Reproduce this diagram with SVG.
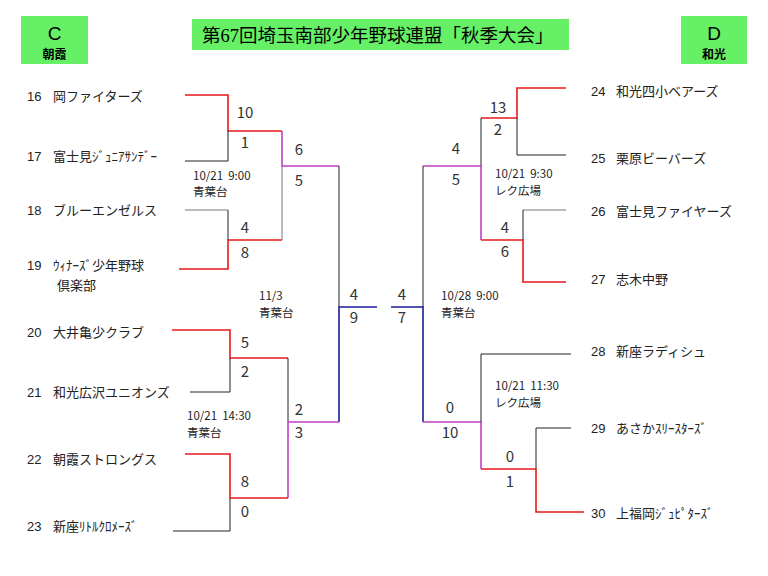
<svg xmlns="http://www.w3.org/2000/svg" width="768" height="576" viewBox="0 0 768 576">
<style>
.bg{fill:#ffffff}
.box{fill:#66f066;stroke:none}
.hdr{font-family:"Liberation Sans","Noto Sans CJK JP",sans-serif;font-size:19px;fill:#000;text-anchor:middle}
.hdrs{font-family:"Noto Sans CJK JP",sans-serif;font-size:12px;font-weight:bold;fill:#000;text-anchor:middle}
.title{font-family:"Noto Sans CJK JP",sans-serif;font-size:18.5px;fill:#000}
.serif{font-family:"Liberation Serif",serif}
.num{font-family:"Liberation Sans","Noto Sans CJK JP",sans-serif;font-size:13px;fill:#222}
.team{font-family:"Noto Sans CJK JP",sans-serif;font-size:13px;fill:#222}
.sc{font-family:"Noto Sans CJK JP",sans-serif;font-size:15px;fill:#333;text-anchor:middle}
.dt{font-family:"Noto Sans CJK JP",sans-serif;font-size:11.5px;fill:#222;white-space:pre}
.k{fill:none;stroke:#222;stroke-width:1}
.g{fill:none;stroke:#777;stroke-width:1}
.r{fill:none;stroke:#e81818;stroke-width:1.6}
.m{fill:none;stroke:#c040c8;stroke-width:1.6}
.b{fill:none;stroke:#1a1a9a;stroke-width:1.6}
</style>
<rect class="bg" x="0" y="0" width="768" height="576"/>

<g id="header-c">
<rect class="box" x="21" y="16" width="67" height="48"/>
<text class="hdr" x="54.5" y="40">C</text>
<text class="hdrs" x="54.5" y="59">朝霞</text>
</g>
<g id="title">
<rect class="box" x="192" y="19" width="377" height="31"/>
<text class="title" x="202" y="42">第<tspan class="serif">67</tspan>回埼玉南部少年野球連盟「秋季大会」</text>
</g>
<g id="header-d">
<rect class="box" x="681" y="16" width="66" height="48"/>
<text class="hdr" x="714" y="40">D</text>
<text class="hdrs" x="714" y="59">和光</text>
</g>

<g id="connectors">
<!-- left -->
<polyline class="r" points="185,95 228,95 228,131 282,131"/>
<polyline class="m" points="282,131 282,166 339,166"/>
<polyline class="k" points="185,161 228,161 228,131"/>
<line class="g" x1="185" y1="210" x2="228" y2="210"/>
<line class="k" x1="228" y1="210" x2="228" y2="240"/>
<polyline class="r" points="179,269 228,269 228,240 282,240"/>
<line class="g" x1="282" y1="240" x2="282" y2="166"/>
<line class="k" x1="339" y1="166" x2="339" y2="307"/>
<polyline class="b" points="377,307 339,307 339,422"/>
<polyline class="r" points="172,330 230,330 230,358 288,358"/>
<line class="k" x1="288" y1="358" x2="288" y2="422"/>
<polyline class="k" points="190,392 230,392 230,358"/>
<polyline class="m" points="339,422 288,422 288,498"/>
<polyline class="r" points="185,454 230,454 230,498 288,498"/>
<polyline class="k" points="173,531 230,531 230,498"/>
<!-- right -->
<polyline class="r" points="566,88 517,88 517,118 481,118"/>
<polyline class="k" points="566,155 517,155 517,118"/>
<line class="k" x1="481" y1="118" x2="481" y2="166"/>
<polyline class="m" points="423,166 481,166 481,240"/>
<line class="g" x1="566" y1="210" x2="523" y2="210"/>
<line class="k" x1="523" y1="210" x2="523" y2="240"/>
<polyline class="r" points="566,282 523,282 523,240 481,240"/>
<line class="k" x1="423" y1="166" x2="423" y2="307"/>
<polyline class="b" points="391,307 423,307 423,422"/>
<polyline class="m" points="423,422 481,422 481,469"/>
<polyline class="k" points="571,354 481,354 481,422"/>
<polyline class="k" points="571,428 536,428 536,469"/>
<polyline class="r" points="584,512 536,512 536,469 481,469"/>
</g>

<g id="team-16"><text class="num" x="27" y="101">16</text><text class="team" x="53" y="101">岡ファイターズ</text></g>
<g id="team-17"><text class="num" x="27" y="161">17</text><text class="team" x="53" y="161">富士見ｼﾞｭﾆｱｻﾝﾃﾞｰ</text></g>
<g id="team-18"><text class="num" x="27" y="215">18</text><text class="team" x="53" y="215">ブルーエンゼルス</text></g>
<g id="team-19"><text class="num" x="27" y="270">19</text><text class="team" x="53" y="270">ｳｨﾅｰｽﾞ少年野球</text><text class="team" x="57" y="290">倶楽部</text></g>
<g id="team-20"><text class="num" x="27" y="337">20</text><text class="team" x="53" y="337">大井亀少クラブ</text></g>
<g id="team-21"><text class="num" x="27" y="397">21</text><text class="team" x="53" y="397">和光広沢ユニオンズ</text></g>
<g id="team-22"><text class="num" x="27" y="464">22</text><text class="team" x="53" y="464">朝霞ストロングス</text></g>
<g id="team-23"><text class="num" x="27" y="531">23</text><text class="team" x="53" y="531">新座ﾘﾄﾙｸﾛﾒｰｽﾞ</text></g>

<g id="team-24"><text class="num" x="591" y="96">24</text><text class="team" x="616" y="96">和光四小ベアーズ</text></g>
<g id="team-25"><text class="num" x="591" y="163">25</text><text class="team" x="616" y="163">栗原ビーバーズ</text></g>
<g id="team-26"><text class="num" x="591" y="216">26</text><text class="team" x="616" y="216">富士見ファイヤーズ</text></g>
<g id="team-27"><text class="num" x="591" y="284">27</text><text class="team" x="616" y="284">志木中野</text></g>
<g id="team-28"><text class="num" x="591" y="356">28</text><text class="team" x="616" y="356">新座ラディシュ</text></g>
<g id="team-29"><text class="num" x="591" y="433">29</text><text class="team" x="616" y="433">あさかｽﾘｰｽﾀｰｽﾞ</text></g>
<g id="team-30"><text class="num" x="591" y="518">30</text><text class="team" x="616" y="518">上福岡ｼﾞｭﾋﾟﾀｰｽﾞ</text></g>

<g id="scores">
<text class="sc" x="245" y="118">10</text>
<text class="sc" x="245" y="148">1</text>
<text class="sc" x="299" y="155">6</text>
<text class="sc" x="299" y="186">5</text>
<text class="sc" x="245" y="233">4</text>
<text class="sc" x="245" y="258">8</text>
<text class="sc" x="354" y="300">4</text>
<text class="sc" x="354" y="323">9</text>
<text class="sc" x="245" y="348">5</text>
<text class="sc" x="245" y="377">2</text>
<text class="sc" x="299" y="415">2</text>
<text class="sc" x="299" y="438">3</text>
<text class="sc" x="245" y="487">8</text>
<text class="sc" x="245" y="517">0</text>
<text class="sc" x="498" y="113">13</text>
<text class="sc" x="498" y="135">2</text>
<text class="sc" x="456" y="154">4</text>
<text class="sc" x="456" y="185">5</text>
<text class="sc" x="505" y="233">4</text>
<text class="sc" x="505" y="257">6</text>
<text class="sc" x="402" y="300">4</text>
<text class="sc" x="402" y="323">7</text>
<text class="sc" x="450" y="413">0</text>
<text class="sc" x="450" y="438">10</text>
<text class="sc" x="510" y="462">0</text>
<text class="sc" x="510" y="487">1</text>
</g>

<g id="match-info">
<text class="dt" x="193" y="180" xml:space="preserve">10/21  9:00</text>
<text class="dt" x="193" y="196">青葉台</text>
<text class="dt" x="259" y="300">11/3</text>
<text class="dt" x="259" y="317">青葉台</text>
<text class="dt" x="187" y="420" xml:space="preserve">10/21  14:30</text>
<text class="dt" x="187" y="437">青葉台</text>
<text class="dt" x="495" y="178" xml:space="preserve">10/21  9:30</text>
<text class="dt" x="495" y="195">レク広場</text>
<text class="dt" x="441" y="300" xml:space="preserve">10/28  9:00</text>
<text class="dt" x="441" y="317">青葉台</text>
<text class="dt" x="495" y="390" xml:space="preserve">10/21  11:30</text>
<text class="dt" x="495" y="407">レク広場</text>
</g>
</svg>
